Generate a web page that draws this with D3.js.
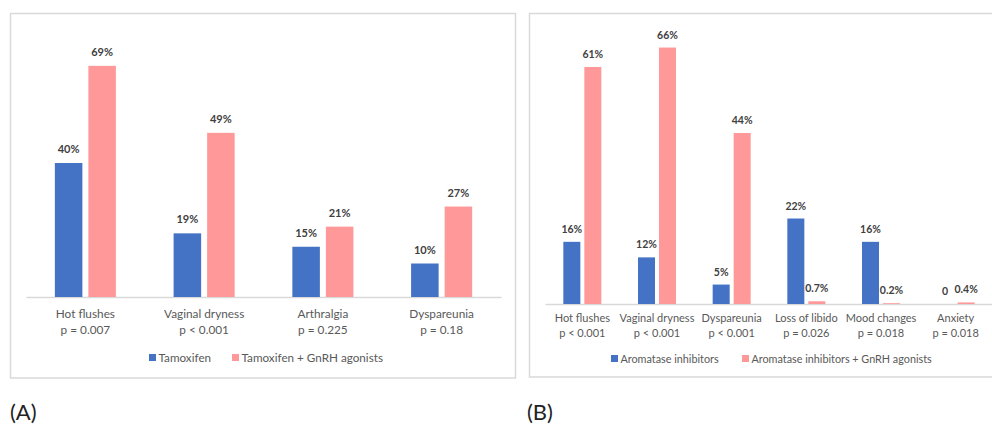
<!DOCTYPE html>
<html>
<head>
<meta charset="utf-8">
<script src="https://cdn.jsdelivr.net/npm/d3@7/dist/d3.min.js"></script>
<style>
  html, body { margin: 0; padding: 0; background: #fff; }
  svg { display: block; }
  text { font-family: Lato, "Open Sans", sans-serif; }
</style>
</head>
<body>
<svg id="chart" width="992" height="425"></svg>
<script>
// ---- Data ----
const categoriesA = ["Hot flushes", "Vaginal dryness", "Arthralgia", "Dyspareunia"];
const pValuesA = ["p = 0.007", "p < 0.001", "p = 0.225", "p = 0.18"];
const seriesNamesA = ["Tamoxifen", "Tamoxifen + GnRH agonists"];
const tamoxifen = [40, 19, 15, 10];
const tamoxifenGnRH = [69, 49, 21, 27];

const categoriesB = ["Hot flushes", "Vaginal dryness", "Dyspareunia", "Loss of libido", "Mood changes", "Anxiety"];
const pValuesB = ["p < 0.001", "p < 0.001", "p < 0.001", "p = 0.026", "p = 0.018", "p = 0.018"];
const seriesNamesB = ["Aromatase inhibitors", "Aromatase inhibitors + GnRH agonists"];
const aromatase = [16, 12, 5, 22, 16, 0];
const aromataseGnRH = [61, 66, 44, 0.7, 0.2, 0.4];

const colors = ["#4472C4", "#FF9999"];

const svg = d3.select("#chart");

function fmt(v) { return v === 0 ? "0" : v + "%"; }

function drawPanel(cfg) {
  const g = svg.append("g");
  // frame
  g.append("rect")
    .attr("x", cfg.frame[0]).attr("y", cfg.frame[1])
    .attr("width", cfg.frame[2]).attr("height", cfg.frame[3])
    .attr("fill", "none").attr("stroke", "#d9d9d9").attr("stroke-width", 1.5);

  const x0 = d3.scaleBand().domain(cfg.categories).range(cfg.xRange)
    .paddingInner(cfg.pad).paddingOuter(cfg.pad / 2);
  const x1 = d3.scaleBand().domain([0, 1]).range([0, x0.bandwidth()])
    .paddingInner(cfg.innerPad).paddingOuter(0);
  const y = d3.scaleLinear().domain(cfg.yDomain).range(cfg.yRange);

  const rows = cfg.categories.map((c, i) => ({
    cat: c, p: cfg.pValues[i], vals: [cfg.s1[i], cfg.s2[i]]
  }));

  // axis baseline
  const axis = d3.axisBottom(x0).tickSize(0).tickFormat("");
  const ax = g.append("g").attr("transform", `translate(0,${y(0)})`).call(axis);
  ax.select(".domain").attr("stroke", "#d9d9d9").attr("stroke-width", 1.5);

  const grp = g.selectAll("g.grp").data(rows).enter().append("g")
    .attr("class", "grp")
    .attr("transform", d => `translate(${x0(d.cat)},0)`);

  grp.selectAll("rect").data(d => d.vals.map((v, j) => ({ v, j }))).enter().append("rect")
    .attr("x", d => x1(d.j))
    .attr("width", x1.bandwidth())
    .attr("y", d => y(d.v))
    .attr("height", d => y(0) - y(d.v))
    .attr("fill", d => colors[d.j]);

  grp.selectAll("text.val").data(d => d.vals.map((v, j) => ({ v, j }))).enter().append("text")
    .attr("class", "val")
    .attr("x", d => x1(d.j) + x1.bandwidth() / 2)
    .attr("y", d => y(d.v) - cfg.labelGap)
    .attr("text-anchor", "middle")
    .attr("font-size", cfg.valSize)
    .attr("font-weight", "bold")
    .attr("fill", "#404040")
    .text(d => fmt(d.v));

  // category labels
  grp.append("text")
    .attr("x", x0.bandwidth() / 2).attr("y", cfg.catY[0])
    .attr("text-anchor", "middle").attr("font-size", cfg.catSize).attr("fill", "#595959")
    .text(d => d.cat);
  grp.append("text")
    .attr("x", x0.bandwidth() / 2).attr("y", cfg.catY[1])
    .attr("text-anchor", "middle").attr("font-size", cfg.catSize).attr("fill", "#595959")
    .text(d => d.p);

  // legend
  cfg.legend.forEach((L, j) => {
    g.append("rect").attr("x", L[0]).attr("y", cfg.legendY - 4)
      .attr("width", 7).attr("height", 7).attr("fill", colors[j]);
    g.append("text").attr("x", L[0] + 9.5).attr("y", cfg.legendY + 4)
      .attr("font-size", cfg.legSize).attr("fill", "#595959")
      .text(cfg.seriesNames[j]);
  });

  // panel letter
  svg.append("text").attr("x", cfg.letter[0]).attr("y", 420)
    .attr("font-size", 22).attr("fill", "#222")
    .text(cfg.letter[1]);
}

drawPanel({
  frame: [10.5, 13.5, 505, 364.5],
  categories: categoriesA, pValues: pValuesA, seriesNames: seriesNamesA,
  s1: tamoxifen, s2: tamoxifenGnRH,
  xRange: [26, 501], pad: 0.486, innerPad: 0.179,
  yDomain: [0, 80], yRange: [297, 29],
  labelGap: 10, valSize: 11, catSize: 11.8, legSize: 11.7,
  catY: [318, 334], legendY: 358,
  legend: [[149], [232]],
  letter: [10, "(A)"]
});

drawPanel({
  frame: [529.5, 13.5, 475, 363.5],
  categories: categoriesB, pValues: pValuesB, seriesNames: seriesNamesB,
  s1: aromatase, s2: aromataseGnRH,
  xRange: [545, 993], pad: 0.491, innerPad: 0.19,
  yDomain: [0, 70], yRange: [304, 32],
  labelGap: 9, valSize: 10.5, catSize: 11, legSize: 10.8,
  catY: [322, 337], legendY: 359,
  legend: [[611], [742]],
  letter: [527, "(B)"]
});
</script>
</body>
</html>
